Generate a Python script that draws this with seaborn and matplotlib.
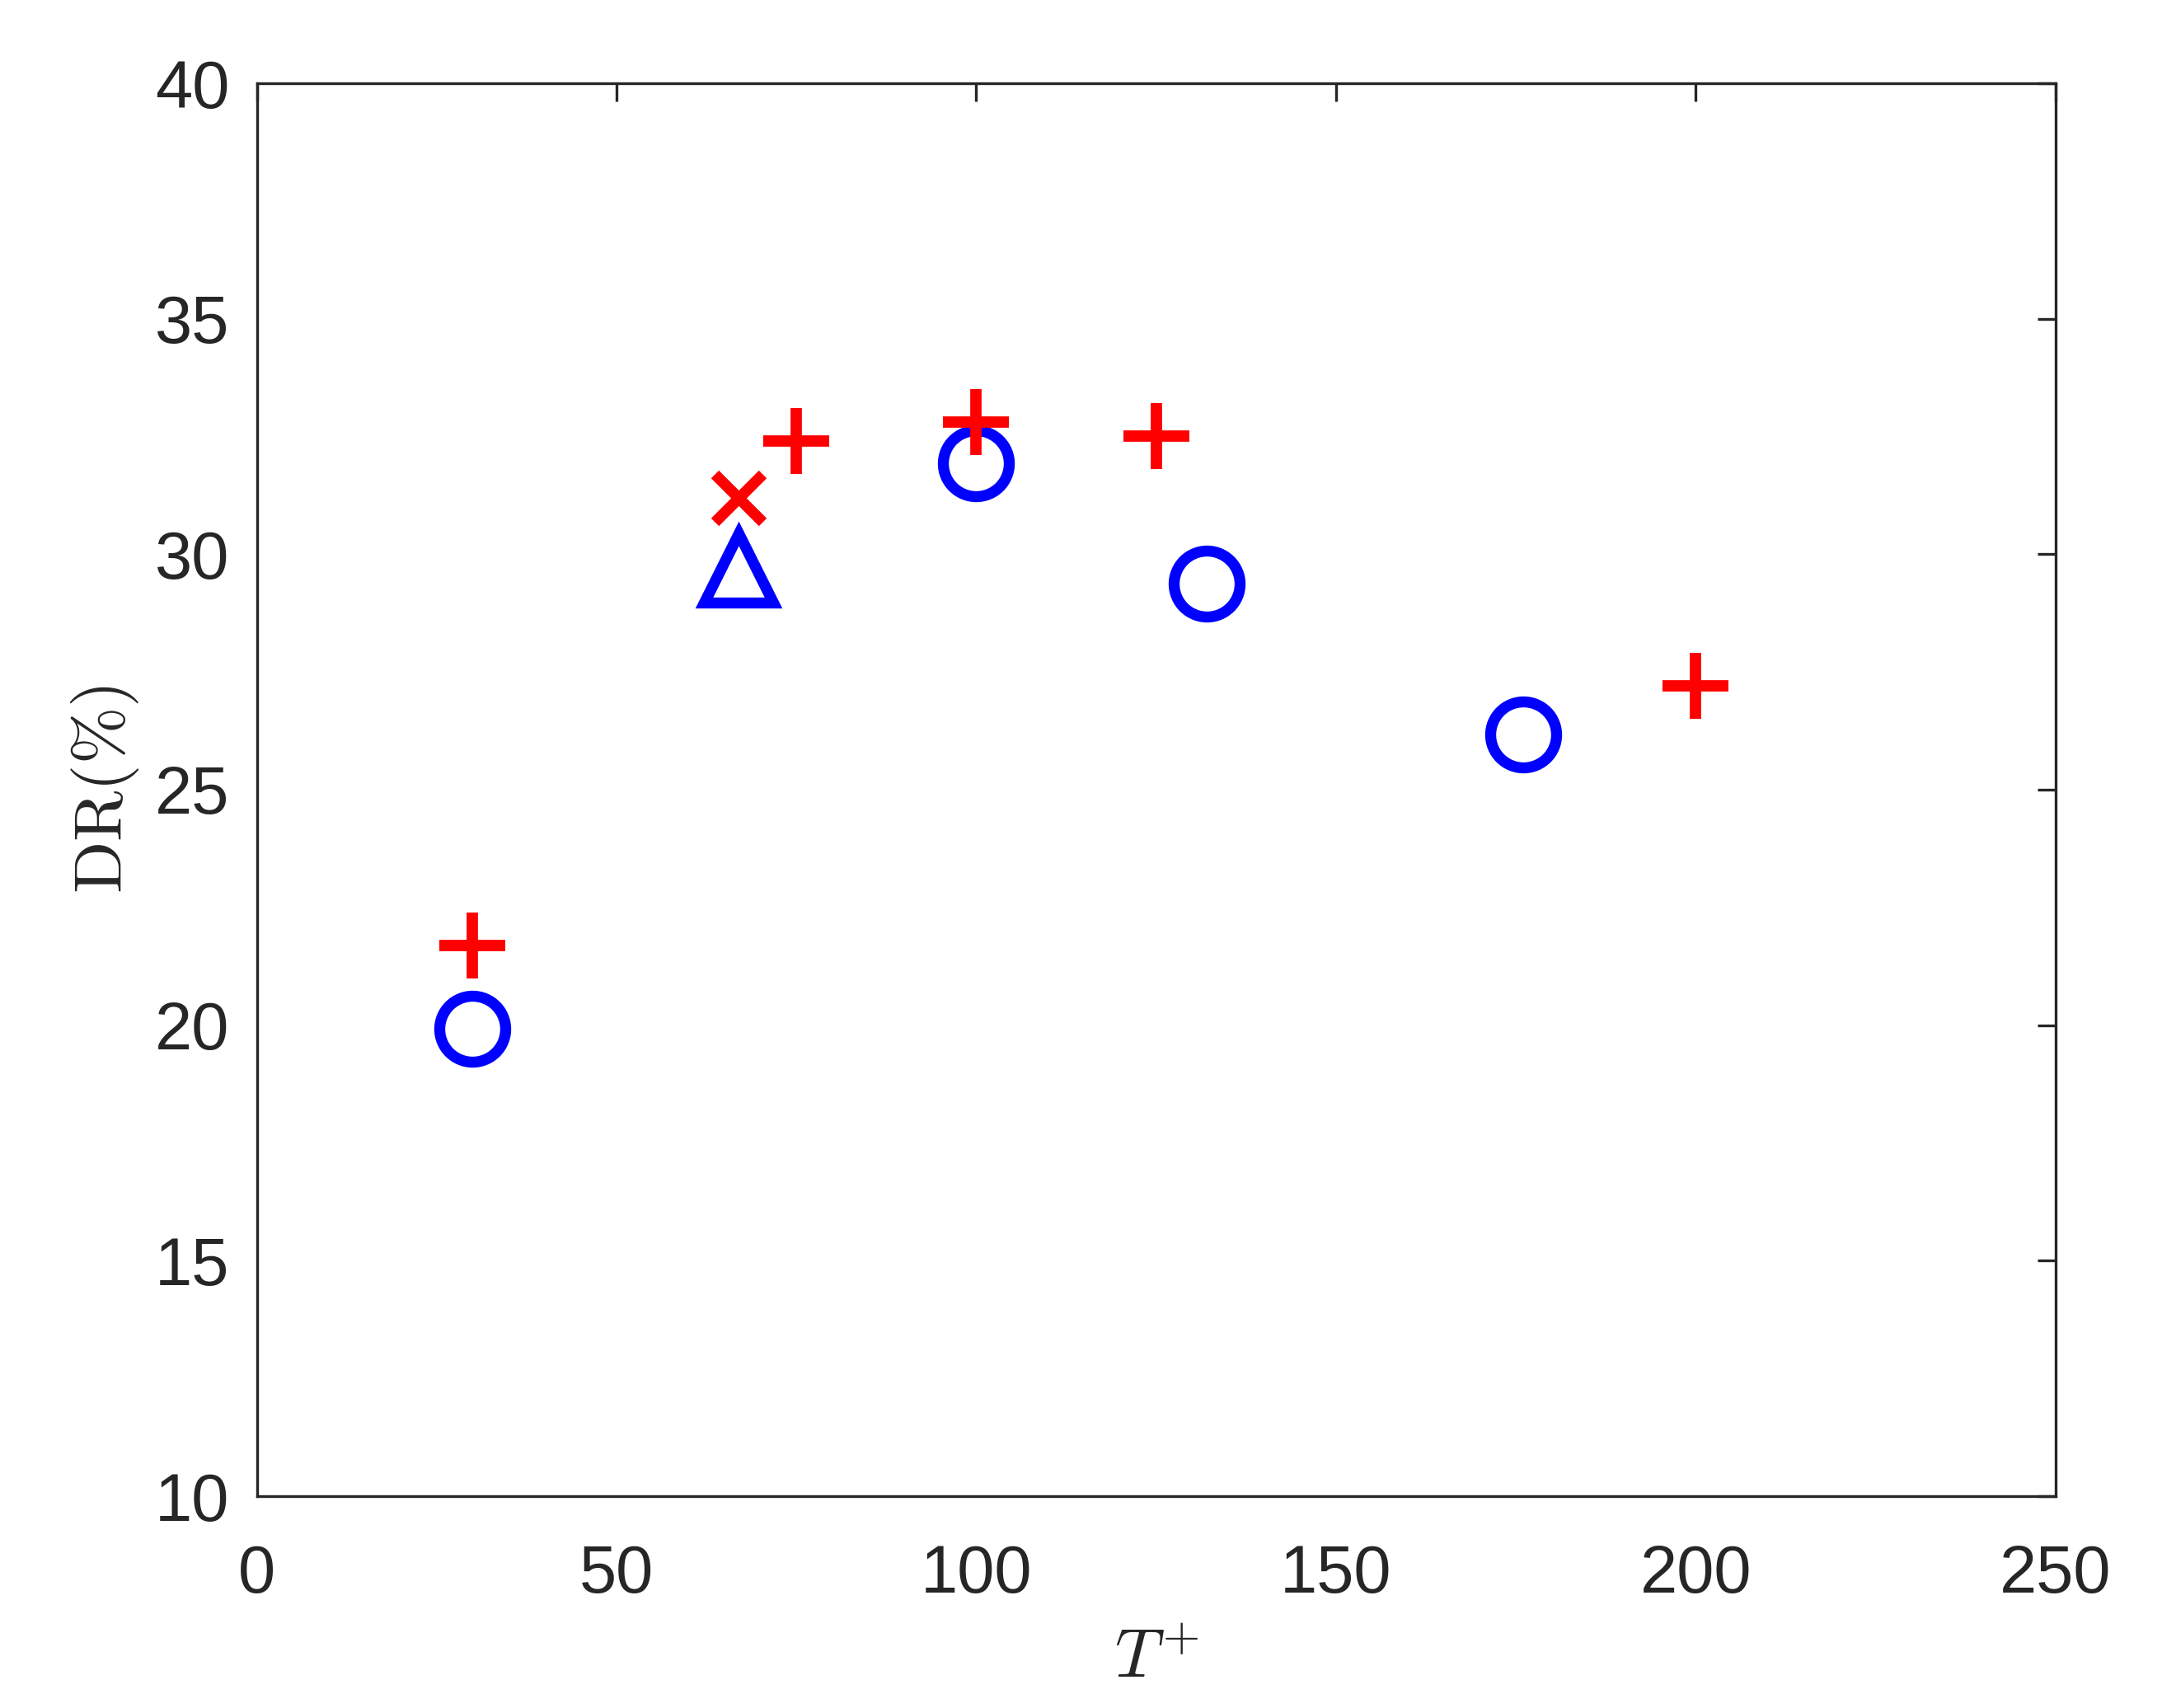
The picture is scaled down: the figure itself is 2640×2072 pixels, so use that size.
import pandas as pd
import matplotlib
matplotlib.use("Agg")
import matplotlib.pyplot as plt
import seaborn as sns

# data
plus_x = [30, 75, 100, 125, 200]
plus_y = [21.70, 32.40, 32.81, 32.51, 27.20]

circ_x = [30, 100, 132, 176]
circ_y = [19.93, 31.93, 29.38, 26.17]

cross_x = [67]
cross_y = [31.20]

tri_x = [67]
tri_y = [29.70]

x_ticks = [0, 50, 100, 150, 200, 250]
y_ticks = [10, 15, 20, 25, 30, 35, 40]

# style
sns.set_theme(style="white")
plt.rcParams["font.family"] = ["Liberation Sans", "DejaVu Sans"]
plt.rcParams["mathtext.fontset"] = "cm"
dark = "#262626"

fig = plt.figure(figsize=(8.8, 2072 / 300), dpi=300)
ax = fig.add_axes([311.5 / 2640, 1 - 1815 / 2072, (2493.7 - 311.5) / 2640, (1815 - 101) / 2072])

df_plus = pd.DataFrame({"T": plus_x, "DR": plus_y})
df_circ = pd.DataFrame({"T": circ_x, "DR": circ_y})
df_cross = pd.DataFrame({"T": cross_x, "DR": cross_y})
df_tri = pd.DataFrame({"T": tri_x, "DR": tri_y})

sns.lineplot(data=df_circ, x="T", y="DR", ax=ax, color="#0000FF", linestyle="",
             marker="o", markersize=19.2, markeredgewidth=3.2, markerfacecolor="none",
             markeredgecolor="#0000FF")
sns.lineplot(data=df_tri, x="T", y="DR", ax=ax, color="#0000FF", linestyle="",
             marker="^", markersize=20, markeredgewidth=3.2, markerfacecolor="none",
             markeredgecolor="#0000FF")
sns.lineplot(data=df_plus, x="T", y="DR", ax=ax, color="#FF0000", linestyle="",
             marker="+", markersize=19.2, markeredgewidth=3.3, markeredgecolor="#FF0000")
sns.lineplot(data=df_cross, x="T", y="DR", ax=ax, color="#FF0000", linestyle="",
             marker="x", markersize=14, markeredgewidth=3.2, markeredgecolor="#FF0000")

ax.set_xlim(0, 250)
ax.set_ylim(10, 40)
ax.set_xticks(x_ticks)
ax.set_yticks(y_ticks)

for s in ax.spines.values():
    s.set_visible(True)
    s.set_linewidth(0.8)
    s.set_color(dark)

ax.tick_params(direction="in", top=True, right=True, length=5.2, width=0.8,
               color=dark, labelcolor=dark, labelsize=19.5)
ax.tick_params(axis="x", pad=14)
ax.tick_params(axis="y", pad=8)

ax.set_xlabel(r"$T^{+}$", fontsize=20, color=dark, labelpad=6)
ax.set_ylabel(r"$\mathrm{DR}(\%)$", fontsize=20, color=dark, labelpad=4)

fig.savefig("out.png", dpi=300, facecolor="white")
